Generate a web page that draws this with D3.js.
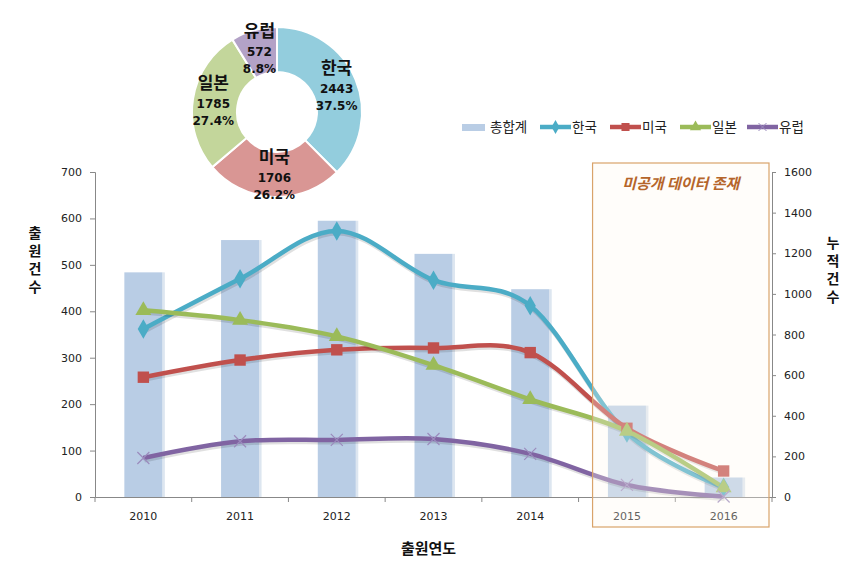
<!DOCTYPE html>
<html><head><meta charset="utf-8">
<script src="https://cdn.jsdelivr.net/npm/d3@7"></script>
<style>body{margin:0;background:#fff}svg{display:block}</style>
</head><body>
<svg id="c" width="856" height="568"></svg>
<script>
const years = ['2010','2011','2012','2013','2014','2015','2016'];
const totals = [1106,1265,1360,1197,1023,450,96];
const korea  = [362,470,573,467,412,138,21];
const usa    = [258,295,317,321,311,148,56];
const japan  = [402,381,346,284,210,142,20];
const europe = [84,120,123,125,93,26,1];
const leftTicks = [0,100,200,300,400,500,600,700];
const rightTicks = [0,200,400,600,800,1000,1200,1400,1600];
const donutNames = ['한국','미국','일본','유럽'];
const donutValues = [2443,1706,1785,572];
const donutPct = ['37.5%','26.2%','27.4%','8.8%'];
const boxYears = ['2015','2016'];
const boxNote = '미공개 데이터 존재';

const svg = d3.select('#c');
const KR = "'Noto Sans CJK KR','Noto Sans',sans-serif";
const NUM = "'DejaVu Sans',sans-serif";

const L=95, R=772, T=172, B=497;
const x = d3.scaleBand().domain(years).range([L,R]);
const yL = d3.scaleLinear().domain([0,700]).range([B,T]);
const yR = d3.scaleLinear().domain([0,1600]).range([B,T]);

// bars
const bw = 38;
const gb = svg.append('g');
gb.selectAll('rect.s').data(years).join('rect')
  .attr('x',(d)=>x(d)+x.bandwidth()/2+bw/2).attr('width',2.5)
  .attr('y',(d,i)=>yR(totals[i])).attr('height',(d,i)=>B-yR(totals[i]))
  .attr('fill','#dde6f0');
gb.selectAll('rect.b').data(years).join('rect')
  .attr('x',d=>x(d)+x.bandwidth()/2-bw/2).attr('width',bw)
  .attr('y',(d,i)=>yR(totals[i])).attr('height',(d,i)=>B-yR(totals[i]))
  .attr('fill','#b9cde5');

// axes
const axL = svg.append('g').attr('transform',`translate(${L},0)`)
  .call(d3.axisLeft(yL).tickValues(leftTicks).tickFormat(d3.format('d')).tickSize(5).tickPadding(8));
const axR = svg.append('g').attr('transform',`translate(${R},0)`)
  .call(d3.axisRight(yR).tickValues(rightTicks).tickFormat(d3.format('d')).tickSize(4).tickPadding(8));
const axB = svg.append('g').attr('transform',`translate(0,${B})`)
  .call(d3.axisBottom(x).tickSize(0).tickPadding(15));
axB.selectAll('.tick line').remove();
// boundary ticks
svg.append('g').selectAll('line').data(d3.range(years.length+1)).join('line')
  .attr('x1',i=>L+i*x.step()).attr('x2',i=>L+i*x.step())
  .attr('y1',B).attr('y2',B+5).attr('stroke','#888');
[axL,axR,axB].forEach(a=>{
  a.selectAll('path.domain').attr('stroke','#888');
  a.selectAll('.tick line').attr('stroke','#888');
  a.selectAll('text').attr('font-family',NUM).attr('font-size',11).attr('fill','#222');
});

// lines
const series = [
  {name:'한국', vals:korea, color:'#4bacc6', marker:d3.symbolDiamond, msize:110},
  {name:'미국', vals:usa, color:'#c0504d', marker:d3.symbolSquare, msize:130},
  {name:'일본', vals:japan, color:'#9bbb59', marker:d3.symbolTriangle, msize:110},
  {name:'유럽', vals:europe, color:'#8064a2', marker:'x', msize:0}
];
const cx = d=>x(d)+x.bandwidth()/2;
const line = d3.line().curve(d3.curveCardinal.tension(0));
const gl = svg.append('g');
series.forEach(s=>{
  const pts = years.map((d,i)=>[cx(d), yL(s.vals[i])]);
  gl.append('path').attr('d',line(pts)).attr('fill','none')
    .attr('stroke','rgba(0,0,0,0.12)').attr('stroke-width',5).attr('transform','translate(1,2)');
  gl.append('path').attr('d',line(pts)).attr('fill','none')
    .attr('stroke',s.color).attr('stroke-width',4.5).attr('stroke-linejoin','round');
});
series.forEach(s=>{
  years.forEach((d,i)=>{
    const px=cx(d), py=yL(s.vals[i]);
    if(s.marker==='x'){
      gl.append('path').attr('d',`M${px-6},${py-6}L${px+6},${py+6}M${px-6},${py+6}L${px+6},${py-6}`)
        .attr('stroke','#9b8bbd').attr('stroke-width',1.2);
    } else {
      gl.append('path').attr('d',d3.symbol().type(s.marker).size(s.msize)())
        .attr('transform',`translate(${px},${py})`).attr('fill',s.color);
    }
  });
});

// highlight box
const bx0 = x(boxYears[0])+14, bx1 = x(boxYears[1])+x.bandwidth()-3;
svg.append('rect').attr('x',bx0).attr('y',T-9).attr('width',bx1-bx0).attr('height',B-T+39)
  .attr('fill','#fffaf0').attr('fill-opacity',0.3).attr('stroke','#d9a36a').attr('stroke-width',1.2);
svg.append('text').attr('x',(bx0+bx1)/2).attr('y',T+17).attr('text-anchor','middle')
  .attr('font-family',KR).attr('font-size',15).attr('font-weight','bold').attr('font-style','italic')
  .attr('fill','#b5652a').text(boxNote);

// axis titles
svg.append('text').attr('x',(L+R)/2-5).attr('y',554).attr('text-anchor','middle')
  .attr('font-family',KR).attr('font-size',15).attr('font-weight','bold').attr('fill','#111').text('출원연도');
const vt = (chars,xx,y0)=>{
  svg.append('text').attr('x',xx).attr('y',y0)
    .style('writing-mode','vertical-rl').style('text-orientation','upright')
    .attr('letter-spacing',4)
    .attr('font-family',KR).attr('font-size',14).attr('font-weight','bold').attr('fill','#111').text(chars);
};
vt('출원건수',35,226);
vt('누적건수',833,236);

// legend
const lg = svg.append('g').attr('font-family',KR).attr('font-size',13.5).attr('fill','#222');
const ly = 127;
lg.append('rect').attr('x',462).attr('y',ly-3).attr('width',23).attr('height',7).attr('fill','#b9cde5');
lg.append('text').attr('x',490).attr('y',ly+5).text('총합계');
const lx = [540,610,680,747];
series.forEach((s,i)=>{
  lg.append('line').attr('x1',lx[i]).attr('x2',lx[i]+31).attr('y1',ly).attr('y2',ly)
    .attr('stroke',s.color).attr('stroke-width',4.5);
  if(s.marker==='x'){
    const px=lx[i]+15.5;
    lg.append('path').attr('d',`M${px-4},${ly-4}L${px+4},${ly+4}M${px-4},${ly+4}L${px+4},${ly-4}`)
      .attr('stroke','#9b8bbd').attr('stroke-width',1);
  } else {
    lg.append('path').attr('d',d3.symbol().type(s.marker).size(s.msize*0.5)())
      .attr('transform',`translate(${lx[i]+15.5},${ly})`).attr('fill',s.color);
  }
  lg.append('text').attr('x',lx[i]+32).attr('y',ly+5).text(s.name);
});

// donut
const dcx=277, dcy=112, ro=85, ri=40;
const dColors = ['#93cddd','#d99694','#c3d69b','#b3a2c7'];
const pie = d3.pie().sort(null).value(d=>d)(donutValues);
const arc = d3.arc().innerRadius(ri).outerRadius(ro);
const dg = svg.append('g').attr('transform',`translate(${dcx},${dcy})`);
dg.selectAll('path').data(pie).join('path').attr('d',arc)
  .attr('fill',(d,i)=>dColors[i]).attr('stroke','#fff').attr('stroke-width',2);
const la = d3.arc().innerRadius(ri+2).outerRadius(ro+2);
pie.forEach((p,i)=>{
  const [px,py] = la.centroid(p);
  const t = dg.append('text').attr('text-anchor','middle').attr('fill','#111').attr('font-weight','bold');
  t.append('tspan').attr('x',px).attr('y',py-13).attr('font-family',KR).attr('font-size',17).text(donutNames[i]);
  t.append('tspan').attr('x',px).attr('y',py+6).attr('font-family',NUM).attr('font-size',12).text(donutValues[i]);
  t.append('tspan').attr('x',px).attr('y',py+23).attr('font-family',NUM).attr('font-size',12).text(donutPct[i]);
});
</script>
</body></html>
